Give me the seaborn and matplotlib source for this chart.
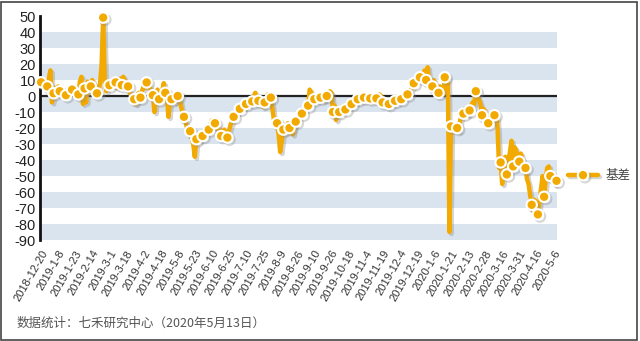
import numpy as np
import pandas as pd
import matplotlib
matplotlib.use("Agg")
import matplotlib.pyplot as plt
import matplotlib.patheffects as pe
from matplotlib.patches import Rectangle
import seaborn as sns

tick_labels = ["2018-12-20", "2019-1-8", "2019-1-23", "2019-2-14", "2019-3-1", "2019-3-18",
               "2019-4-2", "2019-4-18", "2019-5-8", "2019-5-23", "2019-6-10", "2019-6-25",
               "2019-7-10", "2019-7-25", "2019-8-9", "2019-8-26", "2019-9-10", "2019-9-26",
               "2019-10-18", "2019-11-4", "2019-11-19", "2019-12-4", "2019-12-19", "2020-1-6",
               "2020-1-21", "2020-2-13", "2020-2-28", "2020-3-16", "2020-3-31", "2020-4-16",
               "2020-5-6"]

basis_2019a = [8.6, 9, 7, 6, 6, 11, 16, -4, 1.7, 5, 4, 6, 3, 5, 2, 1,
               0.5, 2, 5, 3, 4, 6, 3, 2, 1, 9, 12, -5, 4.7, -4, 9, 7,
               6, 10, 4, 2, 1.7, 4, 8, 20, 49, 10, 3, 7, 6.7, 6, 10, 8,
               8.5, 5, 9, 11, 6.8, 12, 9, 4, 6, 3, 0, -4, -2, -5, 1, 2,
               -1, 3, 6, 5, 8.5, 10, 5, 3, 0.5, -10, 2, 4, -2, 0, 3, 8,
               2, 1, -13, -3, -2, 0, -4, 1, 0, 0, -6, -10]
basis_2019b = [-13, -16, -20, -24, -22, -26, -30, -38, -27, -25, -28, -24,
               -25, -22, -20, -19, -21, -18, -15, -17, -17, -16, -20, -24,
               -25, -22, -21, -24, -26, -22, -18, -16, -13, -12, -11, -9,
               -8, -8, -6, -7, -5, -4, -5, -2, -3.4, 0, 2, -2,
               -3, -4, -5, -7, -4, -2, 1, -1, -1, -8, -15, -18,
               -17, -24, -35, -28, -21, -23, -20, -17, -20, -22, -24, -20,
               -16, -15, -12, -11, -11, -8, -9, -6, -6, 4, 2, -1]
basis_2019c = [-2, -3, 0, -2, -1, 0, -3, -1, 0, 1, 3, 2,
               -10, -6, -15, -12, -10, -10, -9, -10, -8.4, -8, -6, -7,
               -5, -5, -3, -4, -2, -2, 0, -1, -1, 1, -2, -3,
               -1.5, 0, -1, -2, -1.5, -1, 1, 0, -4, -4, -6, -7,
               -5, -4, -2, -3, -3, -2, -4, -3, -2, -1, 1, 0,
               1, 2, 4, 5, 8, 8, 12, 11, 11.7, 10, 12, 16,
               10, 18, 9, 8, 6, 10, 6, 5, 2, 6, 2, 1]
basis_2020 = [11.7, 12, 11, -85, -19, -17, -21, -20, -20, -22, -15, -12,
              -11, -8, -10, -12, -9, -6, -4, -5, 3, -1, -2, -5,
              -12, -8, -10, -14, -17, -15, -12, -13, -12, -10, -20, -45,
              -41.5, -55, -40, -38, -49, -40, -35, -28, -44, -32, -34, -38,
              -41, -36, -40, -43, -45, -52, -55, -62, -68, -72, -65, -70,
              -74, -66, -58, -50, -63, -52, -45, -44, -50, -48, -52, -55, -53]

basis = basis_2019a + basis_2019b + basis_2019c + basis_2020
df = pd.DataFrame({"idx": np.arange(len(basis)), "基差": basis})

sns.set_style("white")
plt.rcParams["font.family"] = ["Liberation Sans", "Noto Sans CJK SC", "DejaVu Sans"]

fig = plt.figure(figsize=(6.4, 3.41), dpi=100)
ax = fig.add_axes([40 / 640, 1 - 240 / 341, 517 / 640, 224 / 341])

band_color = "#dae4ef"
for lo in range(-90, 50, 20):
    ax.axhspan(lo, lo + 10, color=band_color, lw=0, zorder=0)
ax.axhline(0, color="#222222", lw=1.6, zorder=1)

orange = "#f2aa00"
sns.lineplot(data=df, x="idx", y="基差", ax=ax, color=orange, lw=3.2,
             marker="o", markersize=7.5, markerfacecolor=orange,
             markeredgecolor="white", markeredgewidth=1.5, markevery=4,
             label="基差", zorder=3, clip_on=False,
             path_effects=[pe.SimpleLineShadow(offset=(1.5, -1.5), shadow_color="#888888", alpha=0.35),
                           pe.Normal()])

ax.set_xlim(-0.7, 332.3)
ax.set_ylim(-90, 50)
ax.set_yticks(range(-90, 51, 10))
ax.set_yticklabels([str(v) for v in range(-90, 51, 10)], fontsize=10.5, color="#222222")
ax.set_xticks(range(0, 11 * len(tick_labels), 11))
ax.set_xticklabels(tick_labels, rotation=60, ha="right", rotation_mode="anchor",
                   fontsize=8, color="#333333")
ax.tick_params(axis="both", length=0, pad=3)
ax.tick_params(axis="x", pad=6)
ax.set_xlabel("")
ax.set_ylabel("")
for s in ["top", "right", "bottom"]:
    ax.spines[s].set_visible(False)
ax.spines["left"].set_color("#111111")
ax.spines["left"].set_linewidth(2)

ax.get_legend().remove()
h, l = ax.get_legend_handles_labels()
leg = fig.legend(h, l, loc="center left", bbox_to_anchor=(568 / 640, 1 - 176 / 341),
                 frameon=False, handlelength=2.4, numpoints=1, borderpad=0,
                 borderaxespad=0, handletextpad=0.6,
                 prop={"family": ["Noto Sans CJK SC", "DejaVu Sans"], "size": 9})
for t in leg.get_texts():
    t.set_color("#444444")

fig.text(17 / 640, 1 - 323 / 341, "数据统计：七禾研究中心（2020年5月13日）",
         fontsize=9, color="#555555", va="center", ha="left",
         family=["Noto Sans CJK SC", "DejaVu Sans"])

fig.patches.append(Rectangle((0.002, 0.004), 0.994, 0.99, transform=fig.transFigure,
                             fill=False, edgecolor="#444444", lw=1.2))

fig.savefig("out.png", dpi=100, facecolor="white")
